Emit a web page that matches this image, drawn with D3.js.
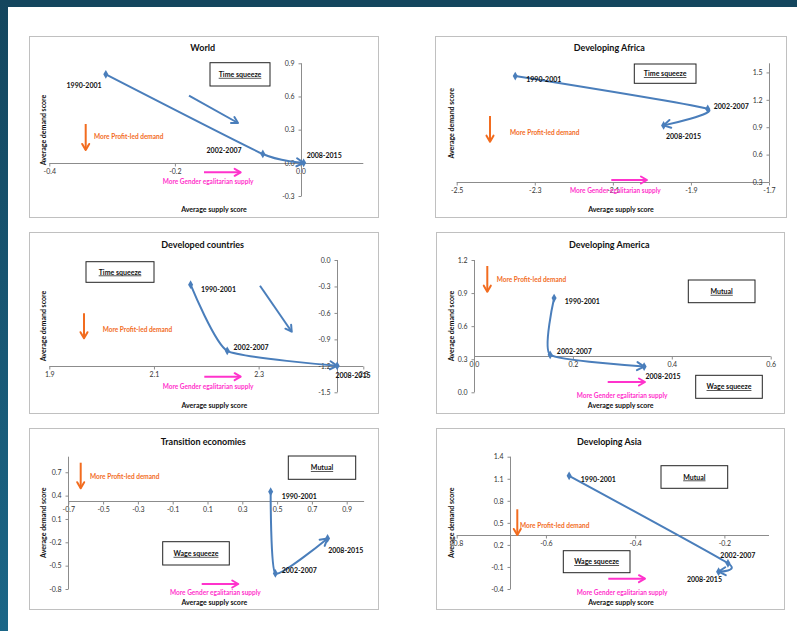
<!DOCTYPE html>
<html>
<head>
<meta charset="utf-8">
<script src="https://cdn.jsdelivr.net/npm/d3@7"></script>
<style>
  body { margin: 0; background: #fff; }
  svg text { font-family: Lato, "Liberation Sans", sans-serif; }
</style>
</head>
<body>
<div id="VisContainer"></div>
<script>
// ---- data ----
var periods = ["1990-2001", "2002-2007", "2008-2015"];
var panelTitles = ["World", "Developing Africa", "Developed countries",
                   "Developing America", "Transition economies", "Developing Asia"];

var worldSupply = [-0.31, -0.06, 0.005];
var worldDemand = [0.80, 0.08, 0.0];
var africaSupply = [-2.35, -1.857, -1.97];
var africaDemand = [1.46, 1.10, 0.92];
var developedSupply = [2.17, 2.24, 2.45];
var developedDemand = [-0.28, -1.03, -1.2];
var americaSupply = [0.162, 0.154, 0.344];
var americaDemand = [0.855, 0.34, 0.233];
var transitionSupply = [0.463, 0.49, 0.79];
var transitionDemand = [0.45, -0.60, -0.15];
var asiaSupply = [-0.548, -0.192, -0.213];
var asiaDemand = [1.14, -0.05, -0.164];

var worldXTicks = [-0.4, -0.2, 0.0];
var worldYTicks = [-0.3, 0.0, 0.3, 0.6, 0.9];
var africaXTicks = [-2.5, -2.3, -2.1, -1.9, -1.7];
var africaYTicks = [0.3, 0.6, 0.9, 1.2, 1.5];
var developedXTicks = [1.9, 2.1, 2.3, 2.5];
var developedYTicks = [-1.5, -1.2, -0.9, -0.6, -0.3, 0.0];
var americaXTicks = [0.0, 0.2, 0.4, 0.6];
var americaYTicks = [0.0, 0.3, 0.6, 0.9, 1.2];
var transitionXTicks = [-0.7, -0.5, -0.3, -0.1, 0.1, 0.3, 0.5, 0.7, 0.9];
var transitionYTicks = [-0.8, -0.5, -0.2, 0.1, 0.4, 0.7];
var asiaXTicks = [-0.8, -0.6, -0.4, -0.2];
var asiaYTicks = [-0.4, -0.1, 0.2, 0.5, 0.8, 1.1, 1.4];

// ---- layout (pixels) ----
lineColor = "#4a7ebb";
orange = "#f26c1f";
pink = "#ff33cc";

var panels = [
  { supply: worldSupply, demand: worldDemand, xTicks: worldXTicks, yTicks: worldYTicks,
    box: [29, 36, 378, 217], xDomain: [-0.4, 0.1], xRange: [49.3, 363.3],
    yDomain: [-0.3, 0.9], yRange: [196, 63.3], xAxisAt: 0, yAxisAt: 0,
    title: [202.7, 51], xTitle: [214, 211.5], yTitle: [43, 130],
    labels: [[-39.3, 13.8], [-56.3, -0.8], [3, -5.2]],
    quads: [["Time squeeze", 210, 62.7, 270, 86]],
    blue: [189, 95.7, 238, 123],
    orange: [85.7, 124, 150, 94, 139], pink: [204, 240.7, 172.3, 162.7, 184] },
  { supply: africaSupply, demand: africaDemand, xTicks: africaXTicks, yTicks: africaYTicks,
    box: [435, 36, 786, 217], xDomain: [-2.5, -1.7], xRange: [456.7, 769],
    yDomain: [0.3, 1.6], yRange: [182, 63.3], xAxisAt: 0.3, yAxisAt: -1.7,
    title: [609.3, 51.3], xTitle: [621, 211.5], yTitle: [451, 123.3],
    labels: [[11, 5.8], [6, 0.5], [2.4, 13.2]],
    quads: [["Time squeeze", 634.3, 64, 696, 83.3]],
    blue: null,
    orange: [490, 116, 141.7, 510, 134.8], pink: [611.3, 647, 180, 570, 193.2] },
  { supply: developedSupply, demand: developedDemand, xTicks: developedXTicks, yTicks: developedYTicks,
    box: [29, 232, 378, 413], xDomain: [1.9, 2.5], xRange: [49.3, 363.3],
    yDomain: [-1.5, 0.0], yRange: [392.3, 260], xAxisAt: -1.2, yAxisAt: 2.45,
    title: [202.7, 248], xTitle: [214.3, 407.5], yTitle: [43.3, 326],
    labels: [[10.3, 7.5], [6.3, -0.8], [-1.7, 12.2]],
    quads: [["Time squeeze", 86, 261.7, 154, 282.3]],
    blue: [260, 285.7, 291.7, 331.7],
    orange: [84, 313.3, 338.3, 102.7, 331.5], pink: [204.3, 240.7, 376.7, 162.7, 389.2] },
  { supply: americaSupply, demand: americaDemand, xTicks: americaXTicks, yTicks: americaYTicks,
    box: [436, 232, 784, 413], xDomain: [0, 0.6], xRange: [474, 770.7],
    yDomain: [0, 1.2], yRange: [392.3, 260], xAxisAt: 0.33, yAxisAt: 0,
    title: [609.3, 248], xTitle: [620.7, 407.8], yTitle: [451, 326],
    labels: [[10.7, 5.9], [6.7, -0.8], [1.4, 12.8]],
    quads: [["Mutual", 688.3, 280, 755, 302.7], ["Wage squeeze", 695.7, 375.3, 762.3, 398.3]],
    blue: null,
    orange: [487.3, 266, 291.7, 496.7, 281.8], pink: [607.7, 645, 382, 576.7, 398.2] },
  { supply: transitionSupply, demand: transitionDemand, xTicks: transitionXTicks, yTicks: transitionYTicks,
    box: [29, 428, 378, 609], xDomain: [-0.7, 1.0], xRange: [68.3, 364.1],
    yDomain: [-0.8, 0.9], yRange: [589, 456.7], xAxisAt: 0.33, yAxisAt: -0.7,
    title: [203.3, 444.7], xTitle: [214.3, 605.2], yTitle: [43.3, 522.7],
    labels: [[11, 6.8], [6.4, -0.8], [0.6, 14.2]],
    quads: [["Mutual", 288.3, 456, 355.7, 479.3], ["Wage squeeze", 162.7, 541.7, 229.3, 565]],
    blue: null,
    orange: [80.7, 462.7, 488.3, 90, 478.5], pink: [201.7, 238.3, 584, 170, 594.8] },
  { supply: asiaSupply, demand: asiaDemand, xTicks: asiaXTicks, yTicks: asiaYTicks,
    box: [436, 428, 784, 609], xDomain: [-0.8, -0.1], xRange: [456.7, 769],
    yDomain: [-0.4, 1.4], yRange: [589, 456.7], xAxisAt: 0.33, yAxisAt: -0.68,
    title: [609.3, 444.7], xTitle: [621, 605.2], yTitle: [451, 522.7],
    labels: [[11.7, 6.5], [-7.6, -4.8], [-31.7, 10.1]],
    quads: [["Mutual", 661, 465.7, 727.7, 488.3], ["Wage squeeze", 563.3, 550.7, 630, 572.7]],
    blue: null,
    orange: [517.3, 509.3, 535, 520, 527.8], pink: [608.3, 645, 578.7, 576.7, 594.8] }
];

var fmt = function(v) { return v.toFixed(1); };

svg = d3.select("#VisContainer").append("svg")
  .attr("width", 797).attr("height", 631);

var grad = svg.append("defs").append("linearGradient")
  .attr("id", "side").attr("x1", 0).attr("y1", 0).attr("x2", 0).attr("y2", 1);
grad.append("stop").attr("offset", "0%").attr("stop-color", "#14465e");
grad.append("stop").attr("offset", "100%").attr("stop-color", "#1b6687");

svg.append("rect").attr("width", 797).attr("height", 631).attr("fill", "#fff");
svg.append("rect").attr("width", 797).attr("height", 7).attr("fill", "#14465e");
svg.append("rect").attr("width", 8).attr("height", 631).attr("fill", "url(#side)");

function arrowHead(g, x, y, dx, dy, len, color) {
  var a = Math.atan2(dy, dx);
  var spread = Math.PI / 6;
  var p1 = [x - len * Math.cos(a - spread), y - len * Math.sin(a - spread)];
  var p2 = [x - len * Math.cos(a + spread), y - len * Math.sin(a + spread)];
  g.append("path")
    .attr("d", "M" + p1 + "L" + x + "," + y + "L" + p2)
    .attr("fill", "none").attr("stroke", color).attr("stroke-width", 2)
    .attr("stroke-linecap", "round").attr("stroke-linejoin", "round");
}

function straightArrow(g, x1, y1, x2, y2, color) {
  g.append("line").attr("x1", x1).attr("y1", y1).attr("x2", x2).attr("y2", y2)
    .attr("stroke", color).attr("stroke-width", 2);
  arrowHead(g, x2, y2, x2 - x1, y2 - y1, 7, color);
}

panels.forEach(function(p, i) {
  var g = svg.append("g").attr("class", "panel");
  var x = d3.scaleLinear().domain(p.xDomain).range(p.xRange);
  var y = d3.scaleLinear().domain(p.yDomain).range(p.yRange);

  g.append("rect")
    .attr("x", p.box[0] + 0.5).attr("y", p.box[1] + 0.5)
    .attr("width", p.box[2] - p.box[0]).attr("height", p.box[3] - p.box[1])
    .attr("fill", "#fff").attr("stroke", "#c0c0c0").attr("stroke-width", 1);

  // axes crossing inside the plot, Excel style
  var ax = Math.round(x(p.yAxisAt)) + 0.5;
  var ay = Math.round(y(p.xAxisAt)) + 0.5;

  var xAxis = d3.axisBottom(x).tickValues(p.xTicks).tickFormat(fmt).tickSize(3).tickPadding(3);
  var gx = g.append("g").attr("transform", "translate(0," + ay + ")").call(xAxis);
  var yAxis = d3.axisLeft(y).tickValues(p.yTicks).tickFormat(fmt).tickSize(3).tickPadding(4);
  var gy = g.append("g").attr("transform", "translate(" + ax + ",0)").call(yAxis);
  [gx, gy].forEach(function(a) {
    a.select(".domain").attr("stroke", "#8c8c8c");
    a.selectAll(".tick line").attr("stroke", "#8c8c8c");
    a.selectAll(".tick text").attr("fill", "#333").style("font-size", "7px");
  });
  gx.select(".domain").attr("d", "M" + p.xRange[0] + ",0H" + p.xRange[1]);
  gy.select(".domain").attr("d", "M0," + p.yRange[0] + "V" + p.yRange[1]);

  g.append("text").attr("x", p.title[0]).attr("y", p.title[1])
    .attr("text-anchor", "middle").style("font-size", "9px").style("font-weight", "bold")
    .attr("fill", "#111").text(panelTitles[i]);
  g.append("text").attr("x", p.xTitle[0]).attr("y", p.xTitle[1])
    .attr("text-anchor", "middle").style("font-size", "7px").style("font-weight", "bold")
    .attr("fill", "#111").text("Average supply score");
  g.append("text")
    .attr("transform", "translate(" + (p.yTitle[0] + 2.5) + "," + p.yTitle[1] + ") rotate(-90)")
    .attr("text-anchor", "middle").style("font-size", "7px").style("font-weight", "bold")
    .attr("fill", "#111").text("Average demand score");

  // quadrant boxes
  p.quads.forEach(function(q) {
    g.append("rect").attr("x", q[1]).attr("y", q[2])
      .attr("width", q[3] - q[1]).attr("height", q[4] - q[2])
      .attr("fill", "#fff").attr("stroke", "#222").attr("stroke-width", 1);
    g.append("text").attr("x", (q[1] + q[3]) / 2).attr("y", (q[2] + q[4]) / 2 + 2.5)
      .attr("text-anchor", "middle").style("font-size", "7px").style("font-weight", "bold")
      .style("text-decoration", "underline").attr("fill", "#111").text(q[0]);
  });

  // direction arrows
  if (p.blue) straightArrow(g, p.blue[0], p.blue[1], p.blue[2], p.blue[3], lineColor);
  straightArrow(g, p.orange[0], p.orange[1], p.orange[0], p.orange[2], orange);
  g.append("text").attr("x", p.orange[3]).attr("y", p.orange[4])
    .style("font-size", "6.5px").style("font-weight", "bold").attr("fill", orange)
    .text("More Profit-led demand");
  straightArrow(g, p.pink[0], p.pink[2], p.pink[1], p.pink[2], pink);
  g.append("text").attr("x", p.pink[3]).attr("y", p.pink[4])
    .style("font-size", "6.5px").style("font-weight", "bold").attr("fill", pink)
    .text("More Gender egalitarian supply");

  // trajectory
  var pts = p.supply.map(function(s, k) { return [x(s), y(p.demand[k])]; });
  var line = d3.line().curve(d3.curveCardinal.tension(0.5));
  var path = g.append("path").attr("d", line(pts))
    .attr("fill", "none").attr("stroke", lineColor).attr("stroke-width", 2);

  g.selectAll("path.dot").data(pts).enter().append("path")
    .attr("class", "dot")
    .attr("transform", function(d) { return "translate(" + d[0] + "," + d[1] + ")"; })
    .attr("d", d3.symbol().type(d3.symbolDiamond).size(22))
    .attr("fill", lineColor);

  var L = path.node().getTotalLength();
  var end = path.node().getPointAtLength(L);
  var before = path.node().getPointAtLength(Math.max(0, L - 4));
  arrowHead(g, end.x, end.y, end.x - before.x, end.y - before.y, 8, lineColor);

  g.selectAll("text.period").data(periods).enter().append("text")
    .attr("class", "period")
    .attr("x", function(d, k) { return pts[k][0] + p.labels[k][0]; })
    .attr("y", function(d, k) { return pts[k][1] + p.labels[k][1]; })
    .style("font-size", "7px").style("font-weight", "bold").attr("fill", "#111")
    .text(function(d) { return d; });
});
</script>
</body>
</html>
